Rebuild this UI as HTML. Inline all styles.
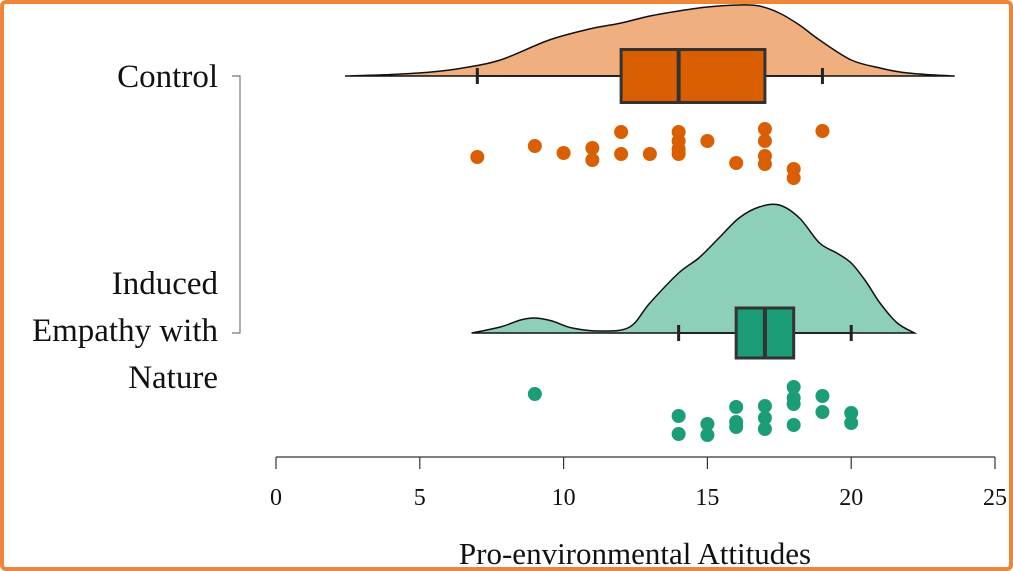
<!DOCTYPE html>
<html><head><meta charset="utf-8"><style>
html,body{margin:0;padding:0;background:#fff}
#wrap{width:1013px;height:571px;box-sizing:border-box;border:4px solid #EF8536;border-radius:6px;position:relative;overflow:hidden}
svg{position:absolute;left:-4px;top:-4px}
text{font-family:"Liberation Serif",serif;fill:#111}
</style></head><body>
<div id="wrap">
<svg id="chart" width="1013" height="571"></svg>
</div>
<script>
const xTicks=[0,5,10,15,20,25];
const controlPoints=[[7,157],[9,146],[10,153],[11,148],[11,160],[12,132],[12,154],[13,154],[14,132],[14,141],[14,149],[14,154],[15,141],[16,163],[17,129],[17,141],[17,156],[17,164],[18,169],[18,178],[19,131]];
const empathyPoints=[[9,394],[14,416],[14,434],[15,424],[15,435],[16,407],[16,422],[16,427],[17,406],[17,418],[17,429],[18,387],[18,398],[18,404],[18,425],[19,396],[19,412],[20,413],[20,423]];
const controlDensX=[2.4,4,5.4,6.5,7.8,9.5,10.9,12,13,14,15,16.1,16.8,17.5,18.2,18.9,20,21,21.7,22.6,23.6];
const controlDensH=[0,1.5,4,8,16,36,47,53,60,65,69,71,70,63,51,36,16,8,4,1.5,0];
const empathyDensX=[6.8,7.8,8.5,9,9.6,10.3,11.3,12.3,13,14,14.7,15.4,16.1,16.8,17.5,18.2,18.9,19.5,20,20.5,21,21.6,22.2];
const empathyDensH=[0,6,13,15,12,5,2,6,30,60,75,95,115,126,128,115,90,80,70,52,30,10,0];
const controlBox={min:7,q1:12,med:14,q3:17,max:19};
const empathyBox={min:14,q1:16,med:17,q3:18,max:20};
const X0=276,X1=995;
const sx=v=>X0+(X1-X0)*v/25;
const svg=document.getElementById('chart');
const NS='http://www.w3.org/2000/svg';
function mk(tag,attrs,parent){const e=document.createElementNS(NS,tag);for(const k in attrs)e.setAttribute(k,attrs[k]);(parent||svg).appendChild(e);return e;}
function cloud(xs,hs,base,fill,name){
  let d='M'+sx(xs[0])+','+base;
  const pts=xs.map((x,i)=>[sx(x),base-hs[i]]);
  // smooth via catmull-rom
  for(let i=0;i<pts.length-1;i++){
    const p0=pts[Math.max(0,i-1)],p1=pts[i],p2=pts[i+1],p3=pts[Math.min(pts.length-1,i+2)];
    const c1=[p1[0]+(p2[0]-p0[0])/6,p1[1]+(p2[1]-p0[1])/6],c2=[p2[0]-(p3[0]-p1[0])/6,p2[1]-(p3[1]-p1[1])/6];
    d+=(i===0?' L'+p1[0]+','+p1[1]:'')+' C'+c1+' '+c2+' '+p2;
  }
  d+=' Z';
  const p=mk('path',{d:d,fill:fill,stroke:'#111','stroke-width':1.5});
  
  
}
function box(b,cy,h,fill,name){
  const g=mk('g',{});
  
  
  mk('line',{x1:sx(b.min),x2:sx(b.q1),y1:cy,y2:cy,stroke:'#222','stroke-width':2},g);
  mk('line',{x1:sx(b.q3),x2:sx(b.max),y1:cy,y2:cy,stroke:'#222','stroke-width':2},g);
  mk('line',{x1:sx(b.min),x2:sx(b.min),y1:cy-8,y2:cy+8,stroke:'#222','stroke-width':3},g);
  mk('line',{x1:sx(b.max),x2:sx(b.max),y1:cy-8,y2:cy+8,stroke:'#222','stroke-width':3},g);
  mk('rect',{x:sx(b.q1),y:cy-h/2,width:sx(b.q3)-sx(b.q1),height:h,fill:fill,stroke:'#333','stroke-width':3},g);
  mk('line',{x1:sx(b.med),x2:sx(b.med),y1:cy-h/2,y2:cy+h/2,stroke:'#333','stroke-width':4},g);
}
function dots(arr,fill,name){
  arr.forEach(p=>{const c=mk('circle',{cx:sx(p[0]),cy:p[1],r:7,fill:fill});
  
  });
}
cloud(controlDensX,controlDensH,76,'#EFAF7F','control-density');
box(controlBox,76,53,'#D95F02','control-boxplot');
dots(controlPoints,'#D95F02','control-point');
cloud(empathyDensX,empathyDensH,333,'#8ECFBA','empathy-density');
box(empathyBox,333,50,'#1B9E77','empathy-boxplot');
dots(empathyPoints,'#1B9E77','empathy-point');
// y axis bracket
const ya=mk('path',{d:'M232,76 H240 V333 H232',fill:'none',stroke:'#777','stroke-width':1.2});

function txt(s,x,y,size,anchor,name){const t=mk('text',{x:x,y:y,'font-size':size,'text-anchor':anchor});t.textContent=s;return t;}
txt('Control',218,87,33,'end','control-label');
txt('Induced',218,294,33,'end','empathy-label-line1');
txt('Empathy with',218,341,33,'end','empathy-label-line2');
txt('Nature',218,388,33,'end','empathy-label-line3');
// x axis
const xa=mk('line',{x1:X0,x2:X1,y1:457,y2:457,stroke:'#333','stroke-width':1.2});

xTicks.forEach(v=>{const l=mk('line',{x1:sx(v),x2:sx(v),y1:457,y2:469,stroke:'#333','stroke-width':1.2});

txt(String(v),sx(v),505,24,'middle','x-tick-label');});
txt('Pro-environmental Attitudes',635,564,31,'middle','x-axis-title');
</script>
</body></html>
